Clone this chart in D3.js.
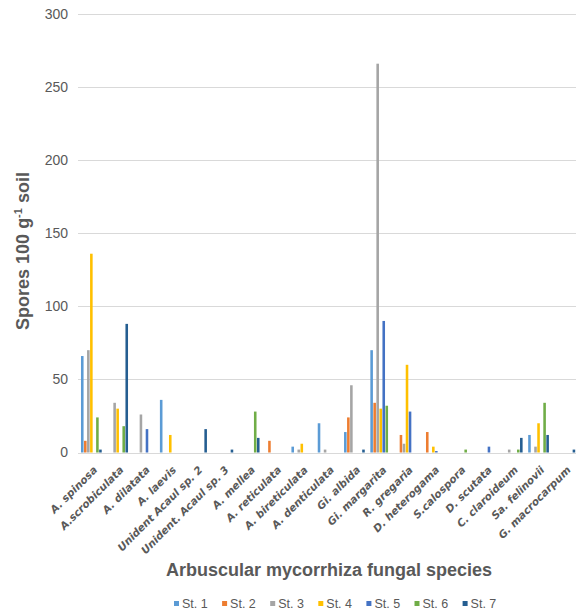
<!DOCTYPE html>
<html lang="en">
<head>
  <meta charset="UTF-8">
  <title>AMF spores by station</title>
  <style>
    body { margin: 0; background: #fff; font-family: "Liberation Sans", Arial, sans-serif; }
    .tick text { fill: #595959; }
  </style>
</head>
<body>
  <svg width="576" height="614"></svg>
  <script src="https://d3js.org/d3.v7.min.js"></script>
  <script>

const species = [
  "A. spinosa", "A.scrobiculata", "A. dilatata", "A. laevis", "Unident Acaul sp. 2",
  "Unident. Acaul sp. 3", "A. mellea", "A. reticulata", "A. bireticulata", "A. denticulata",
  "Gi. albida", "Gi. margarita", "R. gregaria", "D. heterogama", "S.calospora",
  "D. scutata", "C. claroideum", "Sa. felinovii", "G. macrocarpum"
];

const stations = ["St. 1", "St. 2", "St. 3", "St. 4", "St. 5", "St. 6", "St. 7"];

// one array per station, in the species order above
const st1 = [66, 0, 0, 36, 0, 0, 0, 0, 4, 20, 14, 70, 0, 0, 0, 0, 0, 12, 0];
const st2 = [8, 0, 0, 0, 0, 0, 0, 8, 0, 0, 24, 34, 12, 14, 0, 0, 0, 0, 0];
const st3 = [70, 34, 26, 0, 0, 0, 0, 0, 2, 2, 46, 266, 6, 0, 0, 0, 2, 4, 0];
const st4 = [136, 30, 0, 12, 0, 0, 0, 0, 6, 0, 0, 30, 60, 4, 0, 0, 0, 20, 0];
const st5 = [0, 0, 16, 0, 0, 0, 0, 0, 0, 0, 0, 90, 28, 1, 0, 4, 0, 0, 0];
const st6 = [24, 18, 0, 0, 0, 0, 28, 0, 0, 0, 0, 32, 0, 0, 2, 0, 2, 34, 0];
const st7 = [2, 88, 0, 0, 16, 2, 10, 0, 0, 0, 2, 0, 0, 0, 0, 0, 10, 12, 2];

const yTicks = [0, 50, 100, 150, 200, 250, 300];

const colors = ["#5B9BD5", "#ED7D31", "#A5A5A5", "#FFC000", "#4472C4", "#70AD47", "#255E91"];

const seriesValues = [st1, st2, st3, st4, st5, st6, st7];

const svg = d3.select("svg");

const x0 = d3.scaleBand()
  .domain(species)
  .range([78.2, 578])
  .padding(0);

const bw = x0.bandwidth();
const x1 = d3.scaleBand()
  .domain(stations)
  .range([bw * 0.106, bw * 0.894])
  .paddingInner(0.15);

const y = d3.scaleLinear()
  .domain([0, 300])
  .range([452.5, 14]);

const color = d3.scaleOrdinal().domain(stations).range(colors);

// gridlines
svg.append("g")
  .selectAll("line")
  .data(yTicks)
  .join("line")
  .attr("x1", 78)
  .attr("x2", 576)
  .attr("y1", d => Math.round(y(d)) + 0.5)
  .attr("y2", d => Math.round(y(d)) + 0.5)
  .attr("stroke", "#D9D9D9")
  .attr("stroke-width", 1);

// y axis labels
const yAxis = svg.append("g")
  .attr("transform", "translate(70,0)")
  .call(d3.axisLeft(y).tickValues(yTicks).tickSize(0).tickPadding(2));
yAxis.select(".domain").remove();
yAxis.selectAll("text")
  .attr("font-size", 14)
  .attr("font-family", "Liberation Sans, Arial, sans-serif");

// bars
const rows = species.map((s, i) => ({
  name: s,
  values: stations.map((st, j) => ({ station: st, value: seriesValues[j][i] }))
}));

svg.append("g")
  .selectAll("g")
  .data(rows)
  .join("g")
  .attr("transform", d => `translate(${x0(d.name)},0)`)
  .selectAll("rect")
  .data(d => d.values.filter(v => v.value > 0))
  .join("rect")
  .attr("x", d => x1(d.station))
  .attr("width", x1.bandwidth())
  .attr("y", d => y(d.value))
  .attr("height", d => y(0) - y(d.value))
  .attr("fill", d => color(d.station));

// category labels
svg.append("g")
  .selectAll("text")
  .data(species)
  .join("text")
  .attr("transform", d => `translate(${x0(d) + bw / 2 + 4},${468}) rotate(-45)`)
  .attr("text-anchor", "end")
  .attr("dy", "0.35em")
  .attr("font-family", "DejaVu Sans, Verdana, sans-serif")
  .attr("font-size", 10.5)
  .attr("font-weight", "bold")
  .attr("font-style", "italic")
  .attr("fill", "#595959")
  .text(d => d);

// axis titles
svg.append("text")
  .attr("x", 329)
  .attr("y", 576)
  .attr("text-anchor", "middle")
  .attr("font-size", 18)
  .attr("font-weight", "bold")
  .attr("fill", "#595959")
  .text("Arbuscular mycorrhiza fungal species");

const yTitle = svg.append("text")
  .attr("transform", "translate(29,251) rotate(-90)")
  .attr("text-anchor", "middle")
  .attr("font-size", 18)
  .attr("font-weight", "bold")
  .attr("fill", "#595959");
yTitle.append("tspan").text("Spores 100 g");
yTitle.append("tspan").attr("dy", -7).attr("font-size", 11).text("-1");
yTitle.append("tspan").attr("dy", 7).text(" soil");

// legend
const legend = svg.append("g")
  .selectAll("g")
  .data(stations)
  .join("g")
  .attr("transform", (d, i) => `translate(${174 + i * 48.1},0)`);

legend.append("rect")
  .attr("x", 0)
  .attr("y", 601)
  .attr("width", 5)
  .attr("height", 5)
  .attr("fill", d => color(d));

legend.append("text")
  .attr("x", 8)
  .attr("y", 603.5)
  .attr("dy", "0.35em")
  .attr("font-size", 12.5)
  .attr("fill", "#595959")
  .text(d => d);

  </script>
</body>
</html>
